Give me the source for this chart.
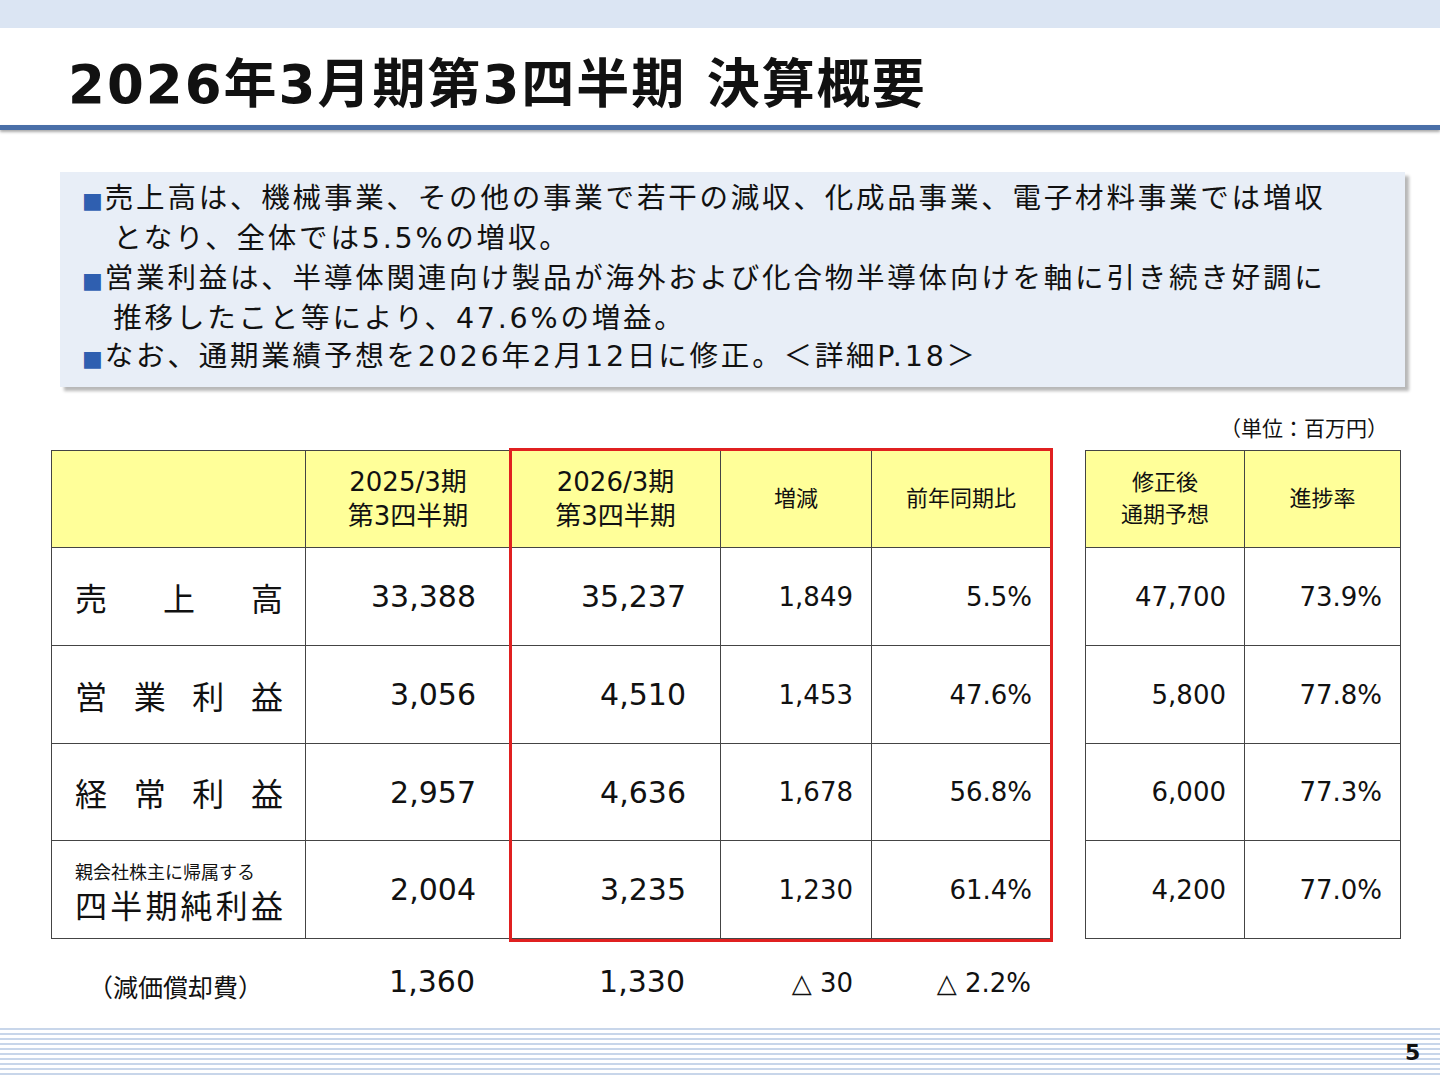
<!DOCTYPE html>
<html><head><meta charset="utf-8">
<script src="https://cdn.jsdelivr.net/npm/chart.js@4.4.1/dist/chart.umd.min.js"></script>
<style>
body{margin:0;width:1440px;height:1080px;position:relative;background:#fff;font-family:"DejaVu Sans","Noto Sans CJK JP",sans-serif;overflow:hidden;color:#111}
.abs{position:absolute}
#topband{left:0;top:0;width:1440px;height:28px;background:#dbe5f3}
#title{left:68px;top:50px;font-size:53px;font-weight:bold;line-height:70px;letter-spacing:2px}
#rule{left:0;top:125px;width:1440px;height:5px;background:#4a6fa8;box-shadow:0 2px 3px #aaa}
#box{left:60px;top:172px;width:1345px;height:215px;background:#e8eef7;box-shadow:4px 4px 3px #b8b8b8}
#box div{font-size:28.5px;line-height:38px;position:absolute;left:22px;letter-spacing:2.8px;white-space:nowrap}
.sq{color:#2f5fb0;font-size:22px;letter-spacing:2px}
#unit{left:1220px;top:412px;font-size:21px}
table{border-collapse:collapse;position:absolute;font-size:30px}
td{border:1px solid #444;text-align:right;padding:0 34px 0 0;box-sizing:border-box}
.hd td{background:#ffff99;text-align:center;padding:0;font-size:22px;line-height:32px}
.lab{text-align:justify;text-align-last:justify;padding:0 22px 0 23px;font-size:32px}
#red{left:509px;top:448px;width:538px;height:488px;border:3px solid #e02020}
#foot div{position:absolute;top:964px;font-size:30px}
#stripes{left:0;top:1025px;width:1440px;height:52px;background:repeating-linear-gradient(#fff 0 3px,#c8d6ea 3px 5px)}
#page{left:1405px;top:1040px;font-size:22px;font-weight:bold}
</style></head><body>
<div id="topband" class="abs"></div>
<div id="title" class="abs">2026年3月期第3四半期 決算概要</div>
<div id="rule" class="abs"></div>
<div id="box" class="abs">
<div style="top:8px"><span class="sq">■</span>売上高は、機械事業、その他の事業で若干の減収、化成品事業、電子材料事業では増収<br>&emsp;となり、全体では5.5%の増収。</div>
<div style="top:88px"><span class="sq">■</span>営業利益は、半導体関連向け製品が海外および化合物半導体向けを軸に引き続き好調に<br>&emsp;推移したこと等により、47.6%の増益。</div>
<div style="top:166px"><span class="sq">■</span>なお、通期業績予想を2026年2月12日に修正。＜詳細P.18＞</div>
</div>
<div id="unit" class="abs">（単位：百万円）</div>
<table id="t1" style="left:51px;top:450px"></table>
<table id="t2" style="left:1085px;top:450px"></table>
<div id="red" class="abs"></div>
<div id="foot"></div>
<div id="stripes" class="abs"></div>
<div id="page" class="abs">5</div>
<canvas id="c" width="1" height="1" style="display:none"></canvas>
<script>
const headers = ['', '2025/3期<br>第3四半期', '2026/3期<br>第3四半期', '増減', '前年同期比'];
const rowLabels = ['売上高', '営業利益', '経常利益', '<div style="font-size:18px;text-align-last:left">親会社株主に帰属する</div>四半期純利益'];
const prev = ['33,388', '3,056', '2,957', '2,004'];
const curr = ['35,237', '4,510', '4,636', '3,235'];
const diff = ['1,849', '1,453', '1,678', '1,230'];
const ratio = ['5.5%', '47.6%', '56.8%', '61.4%'];
const headers2 = ['修正後<br>通期予想', '進捗率'];
const forecast = ['47,700', '5,800', '6,000', '4,200'];
const progress = ['73.9%', '77.8%', '77.3%', '77.0%'];
const footLabel = '（減価償却費）';
const footVals = ['1,360', '1,330', '△ 30', '△ 2.2%'];

const w1 = [254, 205, 210, 151, 179], w2 = [159, 156];
const rh = [97, 98, 98, 97, 98];
let h = '<tr class="hd" style="height:' + rh[0] + 'px">' + headers.map((t, i) => `<td style="width:${w1[i]}px;${i>0&&i<3?'font-size:26px;line-height:34px':''}">${t}</td>`).join('') + '</tr>';
rowLabels.forEach((l, r) => {
  h += `<tr style="height:${rh[r+1]}px"><td class="lab" style="${r==3?'line-height:34px':''}">${l}</td><td>${prev[r]}</td><td>${curr[r]}</td><td style="font-size:26px;padding-right:18px">${diff[r]}</td><td style="font-size:26px;padding-right:18px">${ratio[r]}</td></tr>`;
});
document.getElementById('t1').innerHTML = h;
let h2 = '<tr class="hd" style="height:' + rh[0] + 'px">' + headers2.map((t, i) => `<td style="width:${w2[i]}px">${t}</td>`).join('') + '</tr>';
forecast.forEach((f, r) => { h2 += `<tr style="height:${rh[r+1]}px;font-size:26px"><td style="padding-right:18px">${f}</td><td style="padding-right:18px">${progress[r]}</td></tr>`; });
document.getElementById('t2').innerHTML = h2;
const rights = [475, 685, 853, 1031];
let f = `<div style="left:88px;font-size:25px;top:968px">${footLabel}</div>`;
footVals.forEach((v, i) => { f += `<div style="right:${1440 - rights[i]}px;${i>1?'font-size:26px;top:968px':''}">${v}</div>`; });
document.getElementById('foot').innerHTML = f;
</script>
</body></html>
